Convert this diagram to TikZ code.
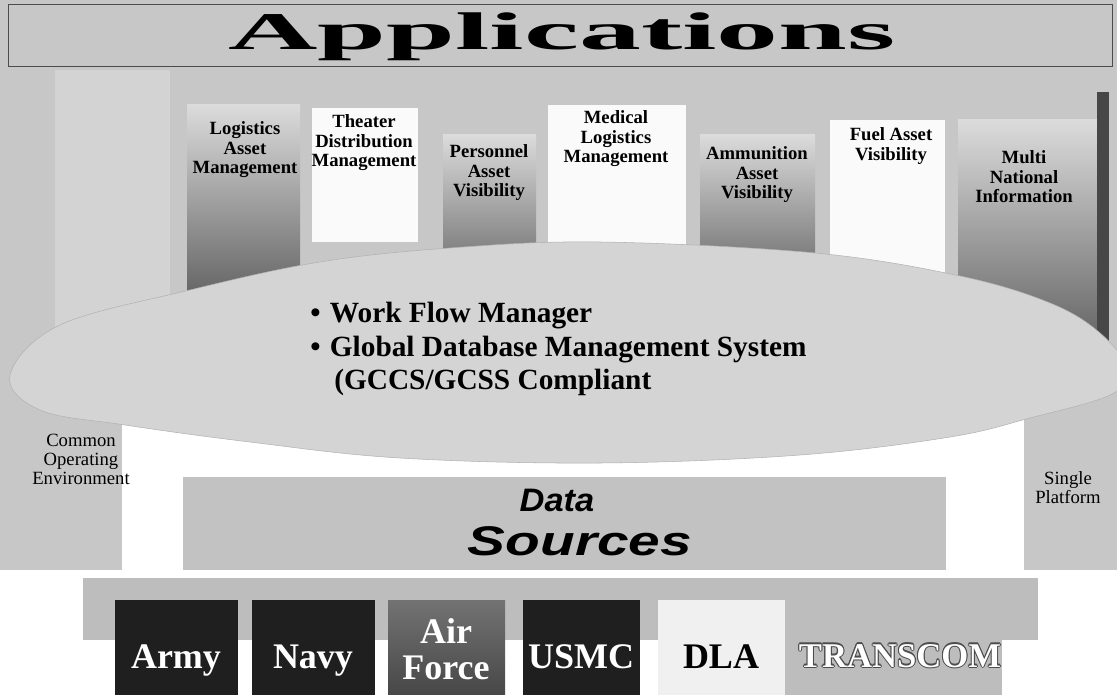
\documentclass[tikz,border=0pt]{standalone}
\usepackage{fontspec}
\setmainfont{Liberation Serif}
\setsansfont{Liberation Sans}
\usepackage{graphicx}
\definecolor{bggray}{gray}{0.78}
\definecolor{elfill}{gray}{0.83}
\definecolor{datafill}{gray}{0.76}
\definecolor{bandfill}{gray}{0.74}
\begin{document}
\begin{tikzpicture}[x=0.75pt,y=-0.75pt,
  colgrad/.style={top color=black!14, bottom color=black!64},
  whitecol/.style={fill=black!2},
  collabel/.style={font=\fontsize{14}{14.6}\selectfont\bfseries, align=center, inner sep=0pt},
  sidelabel/.style={font=\fontsize{14}{14.3}\selectfont, align=center, inner sep=0pt},
  bullet/.style={font=\fontsize{22}{22}\selectfont\bfseries, anchor=base west, inner sep=0pt},
  botlabel/.style={font=\fontsize{27}{24}\selectfont\bfseries, inner sep=0pt, anchor=base},
  darkbox/.style={fill=black!88},
]
\useasboundingbox (0,0) rectangle (1117,695);
% background
\fill[white] (0,0) rectangle (1117,695);
\fill[bggray] (0,0) rectangle (1117,570);
% white stage below the ellipse
\fill[white] (122,400) rectangle (1024,570);
% banner
\draw[black!70, line width=0.6pt] (8,4) rectangle (1112,66);
\node[inner sep=0pt] (title) at (562,37) {\resizebox*{500pt}{36pt}{\bfseries Applications}};
% columns
\fill[white, opacity=0.22] (55,70) rectangle (170,330);
\shade[colgrad] (187,105) rectangle (300,310);
\fill[whitecol] (312,108) rectangle (418,242);
\shade[colgrad] (443,135) rectangle (536,300);
\fill[whitecol] (548,105) rectangle (686,245);
\shade[colgrad] (700,135) rectangle (815,300);
\fill[whitecol] (830,120) rectangle (945,300);
\shade[colgrad] (958,120) rectangle (1097,360);
\fill[black!72] (1097,92) rectangle (1109,360);
% ellipse (platform)
\filldraw[fill=elfill, draw=black!30, line width=0.4pt]
  plot[smooth cycle, tension=0.6] coordinates {
   (10,375) (60,325) (190,290) (320,262) (450,248) (600,242) (815,253)
   (960,276) (1050,303) (1100,333) (1128,370) (1110,395) (1030,418)
   (950,437) (800,455) (600,463) (400,458) (250,442) (125,425) (40,410)};
% column labels
\node[collabel] (logi) at (245,150) {Logistics\\Asset\\Management};
\node[collabel] (theater) at (364,143) {Theater\\Distribution\\Management};
\node[collabel] (pers) at (489,173) {Personnel\\Asset\\Visibility};
\node[collabel] (med) at (616,139) {Medical\\Logistics\\Management};
\node[collabel] (ammo) at (757,175) {Ammunition\\Asset\\Visibility};
\node[collabel] (fuel) at (891,146) {Fuel Asset\\Visibility};
\node[collabel] (multi) at (1024,177) {Multi\\National\\Information};
% bullets
\node[bullet] (wfm) at (310,322) {\textbullet\hspace{7pt}Work Flow Manager};
\node[bullet] (gdms) at (310,356) {\textbullet\hspace{7pt}Global Database Management System};
\node[bullet] (gccs) at (334,389) {(GCCS/GCSS Compliant};
% side labels
\node[sidelabel] (coe) at (81,459) {Common\\Operating\\Environment};
\node[sidelabel] (sp) at (1068,488) {Single\\Platform};
% data sources
\fill[datafill] (183,477) rectangle (946,570);
\node[inner sep=0pt] (data) at (557,500) {\resizebox*{56pt}{17pt}{\sffamily\bfseries\itshape Data}};
\node[inner sep=0pt] (sources) at (580,541) {\resizebox*{168pt}{22pt}{\sffamily\bfseries\itshape Sources}};
% band
\fill[bandfill] (83,578) rectangle (1038,640);
% organisations
\fill[darkbox] (115,600) rectangle (238,695);
\fill[darkbox] (252,600) rectangle (375,695);
\shade[top color=black!55, bottom color=black!72] (388,600) rectangle (505,695);
\fill[darkbox] (523,600) rectangle (640,695);
\fill[black!6] (658,600) rectangle (785,695);
\fill[black!26] (785,600) rectangle (1002,695);
\node[botlabel, text=white] (army) at (176,668) {Army};
\node[botlabel, text=white] (navy) at (313,668) {Navy};
\node[botlabel, text=white] (air) at (446,643) {Air};
\node[botlabel, text=white] (force) at (446,679) {Force};
\node[botlabel, text=white] (usmc) at (581,668) {USMC};
\node[botlabel, text=black] (dla) at (721,668) {DLA};
\foreach \dx/\dy in {-0.8/0,0.8/0,0/-0.8,0/0.8,-0.6/-0.6,0.6/0.6,-0.6/0.6,0.6/-0.6}
  \node[botlabel, text=black!70, font=\fontsize{26}{24}\selectfont\bfseries] at ([shift={(\dx pt,\dy pt)}]900,667) {TRANSCOM};
\node[botlabel, text=white, font=\fontsize{26}{24}\selectfont\bfseries] (transcom) at (900,667) {TRANSCOM};
\end{tikzpicture}
\end{document}
